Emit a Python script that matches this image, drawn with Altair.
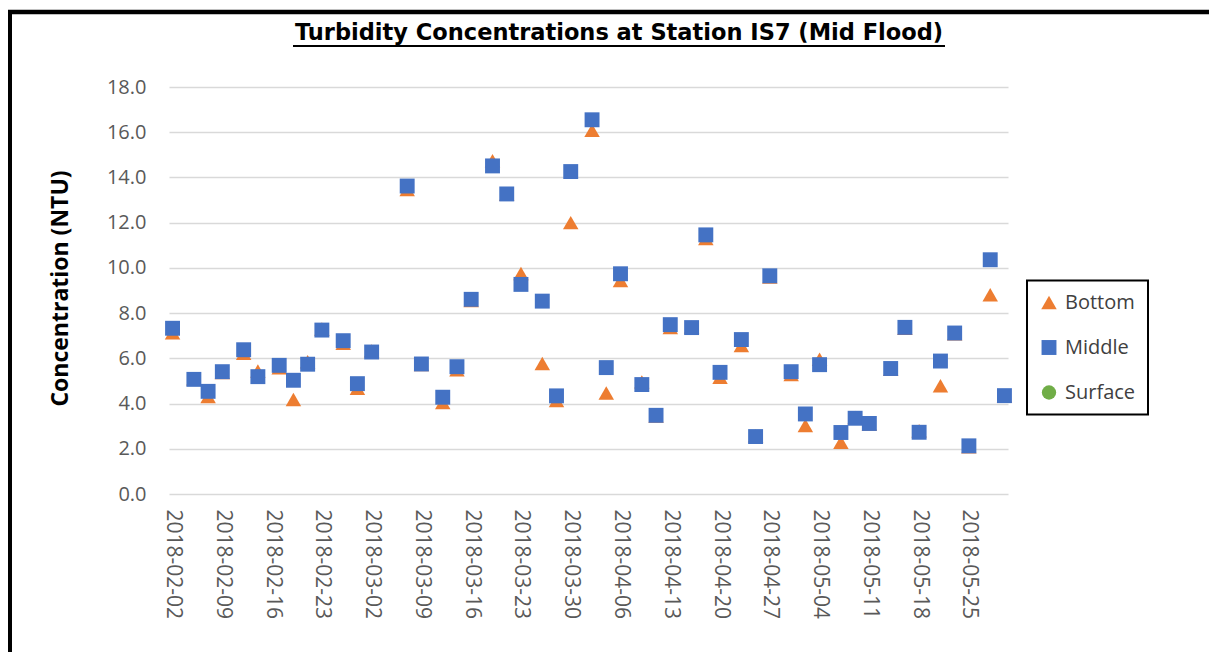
import altair as alt
import pandas as pd

# ---------------- data ----------------
dates = [
    "2018-02-02", "2018-02-05", "2018-02-07", "2018-02-09", "2018-02-12", "2018-02-14",
    "2018-02-17", "2018-02-19", "2018-02-21", "2018-02-23", "2018-02-26", "2018-02-28",
    "2018-03-02", "2018-03-07", "2018-03-09", "2018-03-12", "2018-03-14", "2018-03-16",
    "2018-03-19", "2018-03-21", "2018-03-23", "2018-03-26", "2018-03-28", "2018-03-30",
    "2018-04-02", "2018-04-04", "2018-04-06", "2018-04-09", "2018-04-11", "2018-04-13",
    "2018-04-16", "2018-04-18", "2018-04-20", "2018-04-23", "2018-04-25", "2018-04-27",
    "2018-04-30", "2018-05-02", "2018-05-04", "2018-05-07", "2018-05-09", "2018-05-11",
    "2018-05-14", "2018-05-16", "2018-05-18", "2018-05-21", "2018-05-23", "2018-05-25",
    "2018-05-28", "2018-05-30",
]
bottom = [
    7.13, 5.10, 4.31, 5.37, 6.22, 5.44,
    5.58, 4.18, 5.85, 7.30, 6.66, 4.68,
    6.33, 13.46, 5.72, 4.04, 5.49, 8.56,
    14.74, 13.25, 9.75, 5.77, 4.13, 12.00,
    16.08, 4.47, 9.44, 4.96, 3.45, 7.36,
    7.38, 11.30, 5.16, 6.57, 2.57, 9.59,
    5.28, 3.03, 5.96, 2.29, 3.38, 3.09,
    5.52, 7.33, 2.80, 4.79, 7.08, 2.09,
    8.81, 4.33,
]
middle = [
    7.33, 5.07, 4.54, 5.41, 6.38, 5.19,
    5.69, 5.03, 5.74, 7.25, 6.78, 4.88,
    6.28, 13.62, 5.75, 4.28, 5.63, 8.61,
    14.51, 13.27, 9.27, 8.53, 4.34, 14.26,
    16.55, 5.59, 9.74, 4.84, 3.48, 7.49,
    7.36, 11.46, 5.38, 6.83, 2.54, 9.65,
    5.41, 3.54, 5.72, 2.72, 3.35, 3.12,
    5.55, 7.37, 2.73, 5.88, 7.12, 2.13,
    10.36, 4.35,
]
surface_dates = []   # no surface readings are plotted
surface = []

series = ["Bottom", "Middle", "Surface"]
series_colors = ["#ED7D31", "#4472C4", "#70AD47"]
series_shapes = ["triangle-up", "square", "circle"]
series_sizes = [240, 205, 200]

tick_dates = [
    "2018-02-02", "2018-02-09", "2018-02-16", "2018-02-23", "2018-03-02", "2018-03-09",
    "2018-03-16", "2018-03-23", "2018-03-30", "2018-04-06", "2018-04-13", "2018-04-20",
    "2018-04-27", "2018-05-04", "2018-05-11", "2018-05-18", "2018-05-25",
]
x_start = "2018-02-01T12:00:00"
x_end = "2018-05-30T12:00:00"
y_ticks = [0, 2, 4, 6, 8, 10, 12, 14, 16, 18]

title_text = "Turbidity Concentrations at Station IS7 (Mid Flood)"
y_title = "Concentration (NTU)"


def ms(s):
    return int(pd.Timestamp(s, tz="UTC").value // 10**6)


rows = []
for name, ds, vs in [("Bottom", dates, bottom), ("Middle", dates, middle),
                     ("Surface", surface_dates, surface)]:
    for d, v in zip(ds, vs):
        rows.append({"date": d, "series": name, "value": v})
df = pd.DataFrame(rows)

one = pd.DataFrame({"t": [title_text]})

# ---------------- layout ----------------
PAD_L, PAD_T = 161, 79
W, H = 839, 407
PAD_R = 1201 - PAD_L - W
PAD_B = 644 - PAD_T - H

points = alt.Chart(df).mark_point(filled=True, opacity=1, strokeWidth=0).encode(
    x=alt.X(
        "date:T",
        scale=alt.Scale(type="utc", domain=[ms(x_start), ms(x_end)]),
        axis=alt.Axis(
            values=[ms(d) for d in tick_dates],
            format="%Y-%m-%d",
            labelAngle=90,
            labelFont="Open Sans",
            labelFontSize=21,
            labelColor="#595959",
            labelPadding=15,
            labelOverlap=False,
            labelFlush=False,
            ticks=False,
            tickSize=0,
            domain=False,
            grid=False,
            title=None,
        ),
    ),
    y=alt.Y(
        "value:Q",
        scale=alt.Scale(domain=[0, 18], nice=False, zero=True),
        axis=alt.Axis(
            values=y_ticks,
            format=".1f",
            labelFont="Open Sans",
            labelFontSize=20,
            labelColor="#595959",
            labelPadding=23,
            ticks=False,
            tickSize=0,
            domain=False,
            grid=True,
            gridColor="#d9d9d9",
            gridWidth=1.5,
            title=y_title,
            titleFont="Open Sans",
            titleFontSize=23,
            titleFontWeight="bold",
            titleColor="black",
            titleAngle=270,
            titleAlign="center",
            titleBaseline="middle",
            titleX=-109,
            titleY=201,
        ),
    ),
    color=alt.Color(
        "series:N",
        scale=alt.Scale(domain=series, range=series_colors),
        legend=alt.Legend(
            title=None,
            orient="none",
            legendX=858,
            legendY=193.5,
            padding=12,
            strokeColor="black",
            symbolSize=220,
            symbolStrokeWidth=0,
            labelFont="Open Sans",
            labelFontSize=20,
            labelColor="#404040",
            labelOffset=6,
            rowPadding=25,
        ),
    ),
    shape=alt.Shape("series:N", scale=alt.Scale(domain=series, range=series_shapes)),
    size=alt.Size("series:N", scale=alt.Scale(domain=series, range=series_sizes), legend=None),
)

frame_left = alt.Chart(one).mark_rule(color="black", strokeWidth=5).encode(
    x=alt.value(-159.5), y=alt.value(-77), y2=alt.value(H + PAD_B)
)
frame_top = alt.Chart(one).mark_rule(color="black", strokeWidth=4.5).encode(
    x=alt.value(-162), x2=alt.value(W + PAD_R), y=alt.value(-75)
)
title = alt.Chart(one).mark_text(
    font="DejaVu Sans", fontSize=22.5, fontWeight="bold", align="center",
    baseline="alphabetic", color="black"
).encode(x=alt.value(450), y=alt.value(-47), text="t:N")
underline = alt.Chart(one).mark_rule(color="black", strokeWidth=2).encode(
    x=alt.value(124), x2=alt.value(776), y=alt.value(-41)
)

chart = alt.layer(points, frame_left, frame_top, title, underline).properties(
    width=W,
    height=H,
    autosize=alt.AutoSizeParams(type="none"),
    padding={"left": PAD_L, "top": PAD_T, "right": PAD_R, "bottom": PAD_B},
    background="white",
).configure_view(stroke=None).configure_legend(strokeWidth=2)

chart.save("out.html", embed_options={"renderer": "svg", "actions": False})
